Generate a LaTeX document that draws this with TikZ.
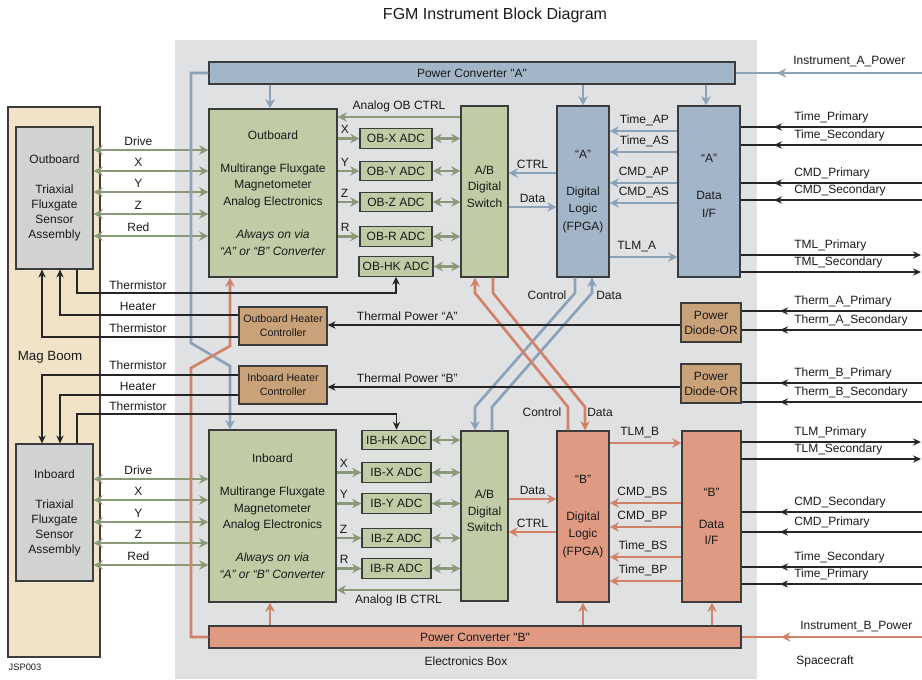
\documentclass[tikz,border=0pt]{standalone}
\usepackage{fontspec}
\setmainfont{Liberation Sans}[Ligatures=TeXOff]
\usetikzlibrary{arrows.meta}
\definecolor{gfill}{RGB}{191,204,166}
\definecolor{gline}{RGB}{138,154,120}
\definecolor{bfill}{RGB}{163,182,201}
\definecolor{bline}{RGB}{139,162,184}
\definecolor{ofill}{RGB}{224,154,130}
\definecolor{oline}{RGB}{209,130,104}
\definecolor{tfill}{RGB}{201,162,121}
\definecolor{boomc}{RGB}{240,227,199}
\definecolor{sfill}{RGB}{209,210,212}
\definecolor{eboxc}{RGB}{224,225,227}
\definecolor{bord}{RGB}{60,60,60}
\definecolor{txt}{RGB}{25,25,25}
\begin{document}
\begin{tikzpicture}[x=0.75pt,y=-0.75pt,
  font=\fontsize{9}{11}\selectfont, text=txt,
  sz/.style 2 args={minimum width=#1*0.75pt, minimum height=#2*0.75pt},
  box/.style={draw=bord, line width=0.8pt, inner sep=0pt, align=center, text=txt},
  gbox/.style={box, fill=gfill},
  bbox/.style={box, fill=bfill},
  obox/.style={box, fill=ofill},
  tbox/.style={box, fill=tfill, font=\fontsize{8}{10.5}\selectfont},
  sbox/.style={box, fill=sfill, font=\fontsize{9}{11.25}\selectfont},
  aefont/.style={font=\fontsize{9}{12.4}\selectfont},
  adc/.style={gbox, sz={72}{19.5}},
  ab/.style={above=1pt, inner sep=1.5pt, text=txt},
  bl/.style={below=1pt, inner sep=1.5pt, text=txt},
  rl/.style={inner sep=1.5pt, anchor=south west, yshift=1pt, text=txt},
  ll/.style={inner sep=1.5pt, anchor=south east, yshift=1pt, text=txt},
  sl/.style={at start, anchor=south west, inner sep=1.5pt, yshift=1pt, text=txt},
  tip/.style={arrows={-Stealth[length=7pt,width=7pt]}},
  gdbl/.style={gline, line width=2pt, arrows={Stealth[length=7pt,width=7pt]-Stealth[length=7pt,width=7pt]}},
  garr/.style={gline, line width=2pt, tip},
  barr/.style={bline, line width=2pt, tip},
  oarr/.style={oline, line width=2pt, tip},
  bln/.style={bline, line width=2pt},
  oln/.style={oline, line width=2pt},
  blk/.style={black!85, line width=0.9pt},
  blkarr/.style={blk, arrows={-Stealth[length=6pt,width=5.5pt]}}
]
\useasboundingbox (0,0) rectangle (922,679);
% backgrounds
\node[fill=eboxc, inner sep=0pt, sz={582}{639}] (ebox) at (466,359.5) {};
\node[draw=bord, line width=0.8pt, fill=boomc, inner sep=0pt, sz={92}{550}] (boom) at (54,382) {};
\node (title) at (495,15) {\fontsize{12}{14}\selectfont FGM Instrument Block Diagram};
\node (boomlbl) at (50,357) {\fontsize{10}{12}\selectfont Mag Boom};
\node (eboxlbl) at (466,661) {Electronics Box};
\node (sclbl) at (825,661) {Spacecraft};
\node (jsp) at (25,667) {\fontsize{7}{8}\selectfont JSP003};

% sensors
\node[sbox, sz={77}{142}] (obs) at (54.5,198) {Outboard\\[11.25pt]Triaxial\\Fluxgate\\Sensor\\Assembly};
\node[sbox, sz={77}{137}] (ibs) at (54.5,512.5) {Inboard\\[11.25pt]Triaxial\\Fluxgate\\Sensor\\Assembly};

% analog electronics
\node[gbox, aefont, sz={128}{168}] (obae) at (273,193) {\mbox{}\\[-6pt]Outboard\\[12.4pt]Multirange Fluxgate\\Magnetometer\\Analog Electronics\\[12.4pt]\textit{Always on via}\\\textit{“A” or “B” Converter}};
\node[gbox, aefont, sz={127}{172}] (ibae) at (272.5,516) {Inboard\\[12.4pt]Multirange Fluxgate\\Magnetometer\\Analog Electronics\\[12.4pt]\textit{Always on via}\\\textit{“A” or “B” Converter}};

% ADCs
\node[adc] (obx) at (396,138.5) {OB-X ADC};
\node[adc] (oby) at (396,171) {OB-Y ADC};
\node[adc] (obz) at (396,202) {OB-Z ADC};
\node[adc] (obr) at (396,236.5) {OB-R ADC};
\node[adc, sz={74}{19.5}] (obhk) at (396,266.5) {OB-HK ADC};
\node[adc, sz={69}{19.5}] (ibhk) at (396.5,440) {IB-HK ADC};
\node[adc, sz={69}{19.5}] (ibx) at (396.5,472.5) {IB-X ADC};
\node[adc, sz={69}{19.5}] (iby) at (396.5,503.5) {IB-Y ADC};
\node[adc, sz={69}{19.5}] (ibz) at (396.5,538) {IB-Z ADC};
\node[adc, sz={69}{19.5}] (ibr) at (396.5,568.5) {IB-R ADC};

% switches
\node[gbox, aefont, sz={47}{171}] (swa) at (484.5,191.5) {A/B\\Digital\\Switch\\[-4.5pt]\mbox{}};
\node[gbox, aefont, sz={47}{170}] (swb) at (484.5,516) {A/B\\Digital\\Switch\\[-4.5pt]\mbox{}};

% FPGAs and data I/F
\node[bbox, font=\fontsize{9}{13}\selectfont, sz={52}{171}] (fpa) at (583,191.5) {“A”\\[14.75pt]Digital\\Logic\\(FPGA)};
\node[obox, font=\fontsize{9}{13}\selectfont, sz={52}{171}] (fpb) at (583,516.5) {“B”\\[14.75pt]Digital\\Logic\\(FPGA)};
\node[bbox, font=\fontsize{9}{13.5}\selectfont, sz={62}{171}] (difa) at (709,191.5) {“A”\\[14.25pt]Data\\I/F\\[-4.5pt]\mbox{}};
\node[obox, font=\fontsize{9}{12}\selectfont, sz={59}{171}] (difb) at (711.5,516.5) {“B”\\[12pt]Data\\I/F};

% power converters
\node[bbox, sz={526}{22}] (pca) at (472,73) {Power Converter "A"};
\node[obox, sz={532}{22}] (pcb) at (475,637) {Power Converter "B"};

% heater controllers and diode-OR
\node[tbox, sz={88}{38}] (ohc) at (283,326) {Outboard Heater\\Controller};
\node[tbox, sz={88}{38}] (ihc) at (283,385) {Inboard Heater\\Controller};
\node[tbox, font=\fontsize{9}{11.25}\selectfont, sz={60}{39}] (pda) at (711,322.5) {Power\\Diode-OR};
\node[tbox, font=\fontsize{9}{11.25}\selectfont, sz={60}{39}] (pdb) at (711,383.5) {Power\\Diode-OR};

% sensor <-> analog electronics
\foreach \y/\t in {150/Drive,171/X,192/Y,214/Z,236/Red}
  \draw[gdbl] (obs.east |- 0,\y) -- node[ab, pos=0.39]{\t} (obae.west |- 0,\y);
\foreach \y/\t in {479/Drive,500/X,522/Y,543/Z,565/Red}
  \draw[gdbl] (ibs.east |- 0,\y) -- node[ab, pos=0.39]{\t} (ibae.west |- 0,\y);

% analog electronics -> ADCs, ADCs <-> switch
\foreach \n/\t in {obx/X,oby/Y,obz/Z,obr/R}
  \draw[garr] (obae.east |- \n) -- node[sl]{\t} (\n);
\foreach \n/\t in {ibx/X,iby/Y,ibz/Z,ibr/R}
  \draw[garr] (ibae.east |- \n) -- node[sl]{\t} (\n);
\foreach \n in {obx,oby,obz,obr,obhk}
  \draw[gdbl] (\n) -- (swa.west |- \n);
\foreach \n in {ibhk,ibx,iby,ibz,ibr}
  \draw[gdbl] (\n) -- (swb.west |- \n);
\draw[garr] (swa.west |- 0,117) -- node[ab]{Analog OB CTRL} (obae.east |- 0,117);
\draw[garr] (swb.west |- 0,590) -- node[bl]{Analog IB CTRL} (ibae.east |- 0,590);

% switch <-> FPGA
\draw[barr] (fpa.west |- 0,173) -- node[ab]{CTRL} (swa.east |- 0,173);
\draw[barr] (swa.east |- 0,207) -- node[ab]{Data} (fpa.west |- 0,207);
\draw[oarr] (swb.east |- 0,499) -- node[ab]{Data} (fpb.west |- 0,499);
\draw[oarr] (fpb.west |- 0,532) -- node[ab]{CTRL} (swb.east |- 0,532);

% data I/F <-> FPGA
\foreach \y/\t in {131/Time\_AP,152/Time\_AS,183/CMD\_AP,203/CMD\_AS}
  \draw[barr] (difa.west |- 0,\y) -- node[ll, at start, xshift=-4pt]{\t} (fpa.east |- 0,\y);
\draw[barr] (fpa.east |- 0,257) -- node[ab, pos=0.4]{TLM\_A} (difa.west |- 0,257);
\foreach \y/\t in {503/CMD\_BS,527/CMD\_BP,557/Time\_BS,581/Time\_BP}
  \draw[oarr] (difb.west |- 0,\y) -- node[ll, at start, xshift=-8pt]{\t} (fpb.east |- 0,\y);
\draw[oarr] (fpb.east |- 0,443) -- node[ab, pos=0.42]{TLM\_B} (difb.west |- 0,443);

% power converter outputs
\draw[barr] (pca.south -| 270,0) -- (obae.north -| 270,0);
\draw[barr] (pca.south -| fpa) -- (fpa.north);
\draw[barr] (pca.south -| 706,0) -- (difa.north -| 706,0);
\draw[oarr] (pcb.north -| 270,0) -- (ibae.south -| 270,0);
\draw[oarr] (pcb.north -| fpb) -- (fpb.south);
\draw[oarr] (pcb.north -| 712,0) -- (difb.south -| 712,0);

% cross-strapped power to analog electronics
\draw[barr] (pca.west) -- (191,73) -- (191,343) -- (230,366) -- (ibae.north -| 230,0);
\draw[oarr] (pcb.west) -- (191,637) -- (191,368) -- (230,346) -- (obae.south -| 230,0);

% cross-strapped control / data
\draw[barr] (fpa.south -| 575,0) -- (575,293) -- (475,407) -- (swb.north -| 475,0);
\draw[barr] (swb.north -| 492,0) -- (492,407) -- (592,293) -- (fpa.south -| 592,0);
\draw[oarr] (fpb.north -| 568,0) -- (568,407) -- (475,293) -- (swa.south -| 475,0);
\draw[oarr] (swa.south -| 493,0) -- (493,293) -- (585,407) -- (fpb.north -| 585,0);
\node (ctla) at (547,295) {Control};
\node (data) at (609,295) {Data};
\node (ctlb) at (542,412) {Control};
\node (datb) at (600,412) {Data};

% spacecraft power
\coordinate (ipa) at (922,73);
\coordinate (ipb) at (922,637);
\draw[bln] (ipa) -- (pca.east);
\draw[barr] (ipa) -- (777,73);
\draw[oln] (ipb) -- (pcb.east);
\draw[oarr] (ipb) -- (781,637);
\node[anchor=west, inner sep=0pt] (ipalbl) at (793,62) {Instrument\_A\_Power};
\node[anchor=west, inner sep=0pt] (ipblbl) at (800,627) {Instrument\_B\_Power};

% spacecraft signals A
\foreach \y/\t in {127/Time\_Primary,145/Time\_Secondary,183/CMD\_Primary,200/CMD\_Secondary}
  {\coordinate (sa\y) at (922,\y);
   \draw[blk] (sa\y) -- (difa.east |- sa\y);
   \draw[blkarr] (sa\y) -- (774,\y);
   \node[rl] at (792,\y) {\t};}
\foreach \y/\t in {255/TML\_Primary,272/TML\_Secondary}
  {\coordinate (sa\y) at (921,\y);
   \draw[blkarr] (difa.east |- sa\y) -- (sa\y);
   \node[rl] at (792,\y) {\t};}
% spacecraft signals B
\foreach \y/\t in {512/CMD\_Secondary,532/CMD\_Primary,567/Time\_Secondary,584/Time\_Primary}
  {\coordinate (sb\y) at (922,\y);
   \draw[blk] (sb\y) -- (difb.east |- sb\y);
   \draw[blkarr] (sb\y) -- (780,\y);
   \node[rl] at (792,\y) {\t};}
\foreach \y/\t in {442/TLM\_Primary,459/TLM\_Secondary}
  {\coordinate (sb\y) at (921,\y);
   \draw[blkarr] (difb.east |- sb\y) -- (sb\y);
   \node[rl] at (792,\y) {\t};}
% thermal inputs
\foreach \y/\t in {311/Therm\_A\_Primary,330/Therm\_A\_Secondary}
  {\coordinate (ta\y) at (922,\y);
   \draw[blk] (ta\y) -- (pda.east |- ta\y);
   \draw[blkarr] (ta\y) -- (780,\y);
   \node[rl] at (792,\y) {\t};}
\foreach \y/\t in {383/Therm\_B\_Primary,402/Therm\_B\_Secondary}
  {\coordinate (tb\y) at (922,\y);
   \draw[blk] (tb\y) -- (pdb.east |- tb\y);
   \draw[blkarr] (tb\y) -- (780,\y);
   \node[rl] at (792,\y) {\t};}

% thermal power
\draw[blkarr] (pda.west |- 0,325) -- node[ab, pos=0.774]{Thermal Power “A”} (ohc.east |- 0,325);
\draw[blkarr] (pdb.west |- 0,387) -- node[ab, pos=0.774]{Thermal Power “B”} (ihc.east |- 0,387);

% heaters and thermistors
\draw[blkarr] (obs.south -| 77,0) |- (obhk.south |- 0,293) -- (obhk.south);
\draw[blkarr] (ohc.west |- 0,315) -| (obs.south -| 60,0);
\draw[blkarr] (ohc.west |- 0,337) -| (obs.south -| 42,0);
\draw[blkarr] (ihc.west |- 0,375) -| (ibs.north -| 42,0);
\draw[blkarr] (ihc.west |- 0,395) -| (ibs.north -| 60,0);
\draw[blkarr] (ibs.north -| 77,0) |- (ibhk.north |- 0,414) -- (ibhk.north);
\node (th1) at (138,285) {Thermistor};
\node (ht1) at (138,306) {Heater};
\node (th2) at (138,328) {Thermistor};
\node (th3) at (138,365) {Thermistor};
\node (ht2) at (138,386) {Heater};
\node (th4) at (138,406) {Thermistor};
\end{tikzpicture}
\end{document}
